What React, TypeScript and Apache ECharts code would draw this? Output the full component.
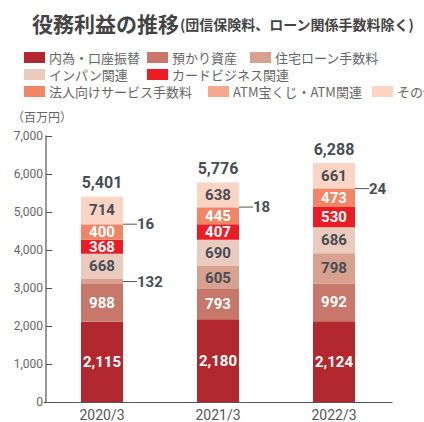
import React, { useEffect, useRef } from "react";
import * as echarts from "echarts";

const categories = ["2020/3", "2021/3", "2022/3"];
const seriesNames = [
  "内為・口座振替",
  "預かり資産",
  "住宅ローン手数料",
  "インパン関連",
  "カードビジネス関連",
  "法人向けサービス手数料",
  "ATM宝くじ・ATM関連",
  "その他",
];
const naitame = [2115, 2180, 2124];
const azukari = [988, 793, 992];
const jutaku = [132, 605, 798];
const inpan = [668, 690, 686];
const card = [368, 407, 530];
const hojin = [400, 445, 473];
const atm = [16, 18, 24];
const sonota = [714, 638, 661];
const totals = [5401, 5776, 6288];
const yTicks = [0, 1000, 2000, 3000, 4000, 5000, 6000, 7000];

const colors = ["#b3282f", "#c8786a", "#d8a08e", "#ebcbbd", "#ed1c24", "#f28566", "#f6a88c", "#fcd4c4"];
const DARK = "#474d55";
const WHITE = "#ffffff";
const NUM_FONT = "Roboto, 'Liberation Sans', sans-serif";
const JP_FONT = "'Noto Sans CJK JP', 'Noto Sans', sans-serif";

const fmt = (v: number) => v.toLocaleString("en-US");

export default function App() {
  const ref = useRef<HTMLDivElement>(null);
  useEffect(() => {
    if (!ref.current) return;
    const chart = echarts.init(ref.current, undefined, { renderer: "svg" });

    const data = [naitame, azukari, jutaku, inpan, card, hojin, atm, sonota];
    const labelColors = [WHITE, WHITE, DARK, DARK, WHITE, WHITE, DARK, DARK];
    const outside: Record<number, number[]> = { 2: [0], 6: [0, 1, 2] };

    const series: any[] = data.map((arr, si) => {
      const outs = outside[si] || [];
      return {
        name: seriesNames[si],
        type: "bar",
        stack: "total",
        barWidth: 42,
        itemStyle: { color: colors[si] },
        data: arr.map((v, di) => {
          const isOut = outs.includes(di);
          return {
            value: v,
            label: isOut
              ? { show: true, position: "right", distance: 0, color: DARK }
              : { show: true, position: "inside", color: labelColors[si] },
            labelLine: isOut
              ? { show: true, lineStyle: { color: "#555", width: 1 } }
              : { show: false },
          };
        }),
        label: {
          show: true,
          fontFamily: NUM_FONT,
          fontWeight: "bold",
          fontSize: 15,
          formatter: (p: any) => fmt(p.value),
        },
        labelLayout: (p: any) => (outs.includes(p.dataIndex) ? { dx: 14 } : {}),
      };
    });

    series.push({
      name: "total",
      type: "bar",
      stack: "total",
      barWidth: 42,
      itemStyle: { color: "transparent" },
      data: totals.map(() => 0),
      label: {
        show: true,
        position: "top",
        distance: 6,
        fontFamily: NUM_FONT,
        fontWeight: "bold",
        fontSize: 16,
        color: DARK,
        formatter: (p: any) => fmt(totals[p.dataIndex]),
      },
    });

    const legendPos = [
      { left: 24, top: 51 },
      { left: 147, top: 51 },
      { left: 250, top: 51 },
      { left: 24, top: 68 },
      { left: 147, top: 68 },
      { left: 24, top: 85 },
      { left: 208, top: 85 },
      { left: 372, top: 85 },
    ];
    const legend = seriesNames.map((n, i) => ({
      data: [n],
      left: legendPos[i].left,
      top: legendPos[i].top,
      itemWidth: 21,
      itemHeight: 11,
      itemGap: 0,
      padding: 0,
      icon: "rect",
      selectedMode: false,
      textStyle: { fontFamily: JP_FONT, fontSize: 13, color: "#666", lineHeight: 13, padding: [0, 0, 0, -1] },
    }));

    chart.setOption({
      animation: false,
      title: {
        left: 32,
        top: 12,
        padding: 0,
        text: "{a|役務利益の推移}{b|(団信保険料、ローン関係手数料除く)}",
        textStyle: {
          rich: {
            a: { fontFamily: JP_FONT, fontSize: 21, fontWeight: "bold", color: "#444" },
            b: { fontFamily: JP_FONT, fontSize: 14, fontWeight: "bold", color: "#444", padding: [3, 0, 0, 1] },
          },
        },
      },
      legend,
      graphic: [
        {
          type: "text",
          left: 12,
          top: 110,
          style: { text: "（百万円）", fontFamily: JP_FONT, fontSize: 12, fill: "#666" },
        },
      ],
      grid: { left: 44, width: 348, top: 136, bottom: 17, containLabel: false },
      xAxis: {
        type: "category",
        data: categories,
        axisLine: { lineStyle: { color: "#555", width: 1.2 } },
        axisTick: { show: false },
        axisLabel: { fontFamily: NUM_FONT, fontSize: 14, color: "#555", margin: 6 },
      },
      yAxis: {
        type: "value",
        min: 0,
        max: 7000,
        interval: 1000,
        offset: -2,
        axisLine: { show: true, lineStyle: { color: "#777", width: 1.5 } },
        axisTick: { show: true, inside: true, length: 6, lineStyle: { color: "#555", width: 1 } },
        splitLine: { show: false },
        axisLabel: {
          fontFamily: NUM_FONT,
          fontSize: 12,
          color: "#666",
          margin: 3,
          formatter: (v: number) => (yTicks.includes(v) ? fmt(v) : ""),
        },
      },
      series,
    });
    return () => chart.dispose();
  }, []);
  return (
    <div
      ref={ref}
      style={{ position: "fixed", left: 0, top: 0, width: 424, height: 422, background: "#fff" }}
    />
  );
}
